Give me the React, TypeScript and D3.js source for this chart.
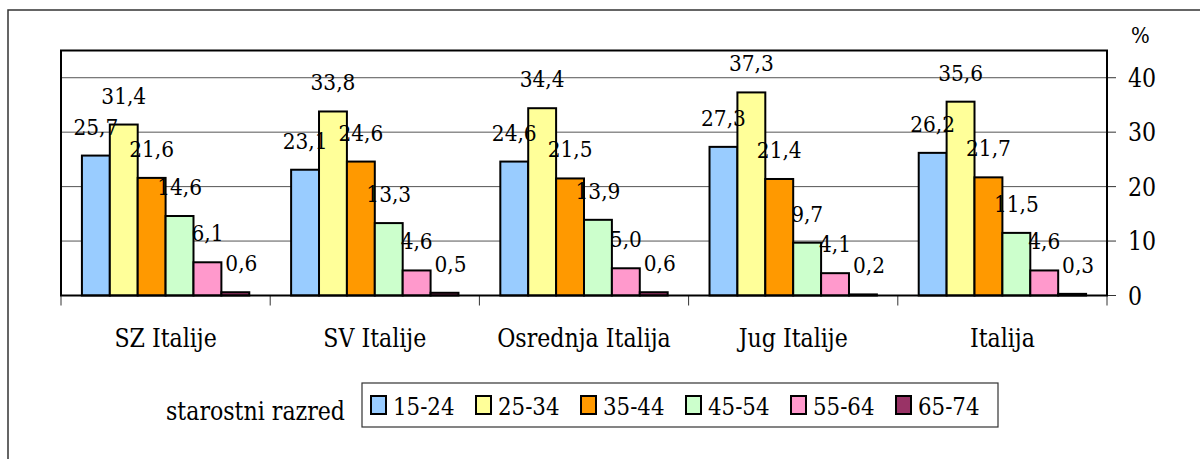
import React from "react";
import * as d3 from "d3";

const categories = ["SZ Italije", "SV Italije", "Osrednja Italija", "Jug Italije", "Italija"];
const seriesNames = ["15-24", "25-34", "35-44", "45-54", "55-64", "65-74"];
const v1524 = [25.7, 23.1, 24.6, 27.3, 26.2];
const v2534 = [31.4, 33.8, 34.4, 37.3, 35.6];
const v3544 = [21.6, 24.6, 21.5, 21.4, 21.7];
const v4554 = [14.6, 13.3, 13.9, 9.7, 11.5];
const v5564 = [6.1, 4.6, 5.0, 4.1, 4.6];
const v6574 = [0.6, 0.5, 0.6, 0.2, 0.3];
const seriesValues = [v1524, v2534, v3544, v4554, v5564, v6574];
const seriesColors = ["#99CCFF", "#FFFF99", "#FF9900", "#CCFFCC", "#FF99CC", "#993366"];
const yTicks = [0, 10, 20, 30, 40];

const W = 1200;
const H = 459;
const FONT = '"DejaVu Serif", serif';

// Serif text with Times-like proportions (DejaVu Serif compressed horizontally)
function ST(props: { x: number; y: number; size: number; anchor?: string; dy?: string; children: any }) {
  const { x, y, size, anchor, dy, children } = props;
  return (
    <text
      transform={`translate(${x},${y}) scale(0.87,1)`}
      fontSize={size * 0.908}
      textAnchor={anchor || "start"}
      dy={dy}
      fill="#000"
      style={{ fontFamily: FONT }}
    >
      {children}
    </text>
  );
}

export default function App() {
  const plotL = 61, plotR = 1107, plotT = 50.5, plotB = 295.5;
  const x0 = d3.scaleBand<string>().domain(categories).range([plotL, plotR]).paddingInner(0).paddingOuter(0);
  const bw = x0.bandwidth();
  const gap = (bw / 7.5) * 0.75;
  const x1 = d3.scaleBand<string>().domain(seriesNames).range([gap, bw - gap]).paddingInner(0).paddingOuter(0);
  const y = d3.scaleLinear().domain([0, 45]).range([plotB, plotT]);
  const fmt = (v: number) => v.toFixed(1).replace(".", ",");

  const legendX = 362, legendY = 383, legendW = 636, legendH = 44;
  const itemStep = 105;

  return (
    <svg width={W} height={H} style={{ position: "absolute", left: 0, top: 0, overflow: "hidden" }}>
      <rect x={0} y={0} width={W} height={H} fill="#fff" />
      <rect x={8} y={10} width={W + 20} height={H + 20} fill="none" stroke="#333" strokeWidth={1.5} />

      {yTicks.filter((t) => t > 0).map((t) => (
        <line key={"g" + t} x1={plotL} x2={plotR} y1={y(t)} y2={y(t)} stroke="#555" strokeWidth={1} />
      ))}
      {yTicks.map((t) => (
        <line key={"yt" + t} x1={plotR} x2={plotR + 9} y1={y(t)} y2={y(t)} stroke="#333" strokeWidth={1} />
      ))}
      {yTicks.map((t) => (
        <ST key={"yl" + t} x={plotR + 21} y={y(t)} dy="0.36em" size={28}>
          {t}
        </ST>
      ))}
      <ST x={1131} y={43} size={25}>%</ST>

      {[...categories.map((c) => x0(c) as number), plotR].map((xx, i) => (
        <line key={"ct" + i} x1={xx} x2={xx} y1={plotB} y2={plotB + 10} stroke="#333" strokeWidth={1} />
      ))}
      {categories.map((c) => (
        <ST key={"cl" + c} x={(x0(c) as number) + bw / 2} y={347} anchor="middle" size={28}>
          {c}
        </ST>
      ))}

      {categories.map((c, ci) =>
        seriesNames.map((s, si) => {
          const v = seriesValues[si][ci];
          const bx = (x0(c) as number) + (x1(s) as number);
          return (
            <rect key={c + s} x={bx} y={y(v)} width={x1.bandwidth()} height={plotB - y(v)} fill={seriesColors[si]} stroke="#000" strokeWidth={2} />
          );
        })
      )}

      <rect x={plotL} y={plotT} width={plotR - plotL} height={plotB - plotT} fill="none" stroke="#000" strokeWidth={2} />

      {categories.map((c, ci) =>
        seriesNames.map((s, si) => {
          const v = seriesValues[si][ci];
          const cx = (x0(c) as number) + (x1(s) as number) + x1.bandwidth() / 2 + (si === 5 ? 6 : 0);
          return (
            <ST key={"dl" + c + s} x={cx} y={y(v) - 21} anchor="middle" size={25.5}>
              {fmt(v)}
            </ST>
          );
        })
      )}

      <ST x={166} y={420} size={28}>starostni razred</ST>
      <rect x={legendX} y={legendY} width={legendW} height={legendH} fill="#fff" stroke="#333" strokeWidth={1.2} />
      {seriesNames.map((s, i) => (
        <g key={"lg" + s} transform={`translate(${legendX + 9 + i * itemStep},0)`}>
          <rect x={0} y={396} width={15} height={18} fill={seriesColors[i]} stroke="#000" strokeWidth={2} />
          <ST x={22} y={415} size={27}>{s}</ST>
        </g>
      ))}
    </svg>
  );
}
